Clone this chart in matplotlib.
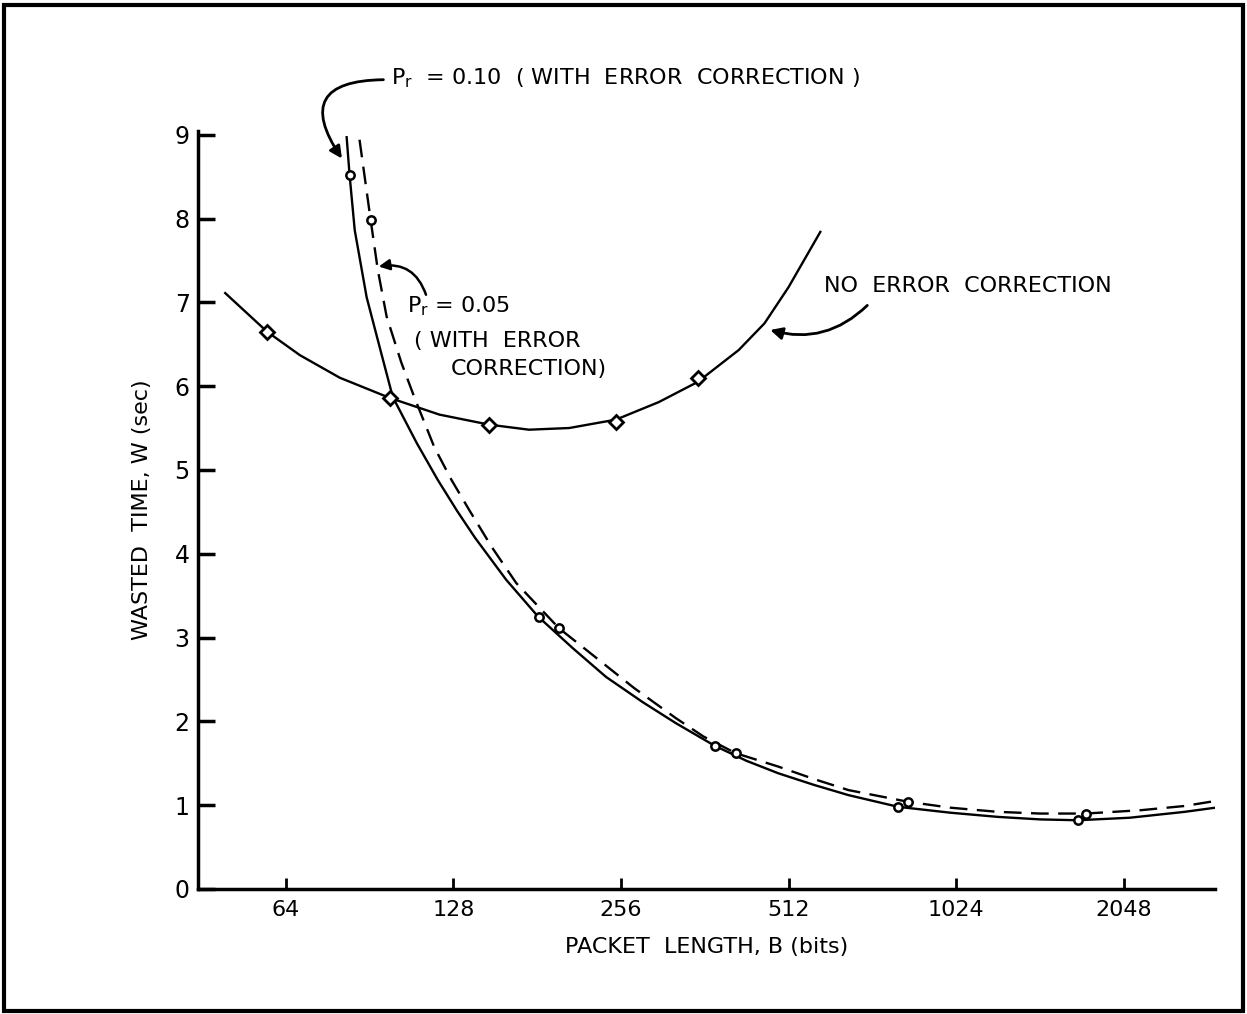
import matplotlib.pyplot as plt
from matplotlib.patches import Rectangle

# Packet length (bits) vs wasted time (sec)
no_corr_B = [49.8, 59.2, 67.8, 80.0, 98.3, 120.8, 148.5, 175, 206.6, 250.7, 299.5, 351.7, 416.6, 463.7, 512, 584]
no_corr_W = [7.11, 6.65, 6.37, 6.10, 5.86, 5.66, 5.54, 5.48, 5.50, 5.60, 5.81, 6.05, 6.43, 6.75, 7.18, 7.84]
no_corr_pts_B = [59.2, 98.3, 148.5, 251, 352]
no_corr_pts_W = [6.65, 5.86, 5.54, 5.57, 6.10]

p10_B = [82.3, 83.3, 85.1, 89.4, 94.3, 99.6, 110, 120, 130, 140, 159.2, 181.7, 210, 240.7, 280, 321, 377,
         430, 491, 570, 656, 806, 1000, 1218, 1450, 1694, 2100, 2634, 2994]
p10_W = [8.97, 8.52, 7.86, 7.06, 6.47, 5.87, 5.32, 4.88, 4.51, 4.19, 3.69, 3.25, 2.87, 2.53, 2.23, 1.98, 1.71,
         1.53, 1.38, 1.24, 1.12, 0.98, 0.91, 0.86, 0.83, 0.82, 0.85, 0.92, 0.97]
p10_pts_B = [83.3, 182.5, 377, 806, 1694]
p10_pts_W = [8.52, 3.25, 1.71, 0.98, 0.82]

p05_B = [86.8, 90.9, 93.6, 97.1, 103.2, 109, 118.3, 127, 136.7, 150, 166, 198.2, 230.9, 270, 321, 360,
         411.6, 491, 570, 656, 840, 1000, 1218, 1450, 1751, 2200, 2634, 2994]
p05_W = [8.94, 7.98, 7.39, 6.83, 6.28, 5.86, 5.27, 4.88, 4.52, 4.08, 3.65, 3.11, 2.76, 2.40, 2.04, 1.82,
         1.62, 1.46, 1.31, 1.18, 1.04, 0.97, 0.92, 0.90, 0.90, 0.94, 0.99, 1.05]
p05_pts_B = [90.9, 198.2, 411.6, 840, 1751]
p05_pts_W = [7.98, 3.11, 1.62, 1.04, 0.90]

x_ticks = [64, 128, 256, 512, 1024, 2048]
y_ticks = list(range(10))

plt.rcParams['font.family'] = 'DejaVu Sans'

fig = plt.figure(figsize=(12.47, 10.14), dpi=100)
ax = fig.add_axes([0.1588, 0.1233, 0.8156, 0.748])

# curves
ax.plot(no_corr_B, no_corr_W, color='black', lw=1.7)
ax.plot(p10_B, p10_W, color='black', lw=1.7)
ax.plot(p05_B, p05_W, color='black', lw=1.7, dashes=(7.5, 4))

# measured points
ax.plot(no_corr_pts_B, no_corr_pts_W, 'D', ms=7, mfc='white', mec='black', mew=2)
ax.plot(p10_pts_B, p10_pts_W, 'o', ms=6, mfc='white', mec='black', mew=1.8)
ax.plot(p05_pts_B, p05_pts_W, 'o', ms=6, mfc='white', mec='black', mew=1.8)

ax.set_xscale('log', base=2)
ax.set_xlim(44.5, 2990)
ax.set_ylim(0, 9.05)
ax.set_xticks(x_ticks)
ax.set_xticklabels([str(t) for t in x_ticks])
ax.set_yticks(y_ticks)
ax.minorticks_off()

for side in ['top', 'right']:
    ax.spines[side].set_visible(False)
for side in ['left', 'bottom']:
    ax.spines[side].set_linewidth(2.5)

ax.tick_params(axis='x', direction='in', length=8, width=2, labelsize=16, pad=8)
ax.tick_params(axis='y', direction='in', length=12, width=2.5, labelsize=17, pad=6)

ax.set_xlabel('PACKET  LENGTH, B (bits)', fontsize=16, labelpad=12)
ax.set_ylabel('WASTED  TIME, W (sec)', fontsize=16, labelpad=16)

# labels with curved arrows
ax.text(0.19, 1.069, r'P$_\mathregular{r}$  = 0.10  ( WITH  ERROR  CORRECTION )',
        transform=ax.transAxes, fontsize=16, va='center', ha='left')
ax.annotate('', xy=(0.143, 0.96), xycoords='axes fraction',
            xytext=(0.185, 1.067), textcoords='axes fraction',
            arrowprops=dict(arrowstyle='-|>', color='black', lw=2,
                            connectionstyle='arc3,rad=0.95', mutation_scale=18))

ax.text(0.205, 0.768, r'P$_\mathregular{r}$ = 0.05', transform=ax.transAxes,
        fontsize=16, va='center', ha='left')
ax.text(0.212, 0.723, '( WITH  ERROR', transform=ax.transAxes,
        fontsize=16, va='center', ha='left')
ax.text(0.248, 0.685, 'CORRECTION)', transform=ax.transAxes,
        fontsize=16, va='center', ha='left')
ax.annotate('', xy=(0.175, 0.82), xycoords='axes fraction',
            xytext=(0.225, 0.78), textcoords='axes fraction',
            arrowprops=dict(arrowstyle='-|>', color='black', lw=1.8,
                            connectionstyle='arc3,rad=0.45', mutation_scale=16))

ax.text(0.615, 0.795, 'NO  ERROR  CORRECTION', transform=ax.transAxes,
        fontsize=16, va='center', ha='left')
ax.annotate('', xy=(0.56, 0.738), xycoords='axes fraction',
            xytext=(0.66, 0.772), textcoords='axes fraction',
            arrowprops=dict(arrowstyle='-|>', color='black', lw=2,
                            connectionstyle='arc3,rad=-0.3', mutation_scale=18))

# frame around the whole figure
fig.patches.append(Rectangle((0.003, 0.003), 0.994, 0.992, transform=fig.transFigure,
                             fill=False, edgecolor='black', lw=3))

plt.savefig('out.png', dpi=100)
